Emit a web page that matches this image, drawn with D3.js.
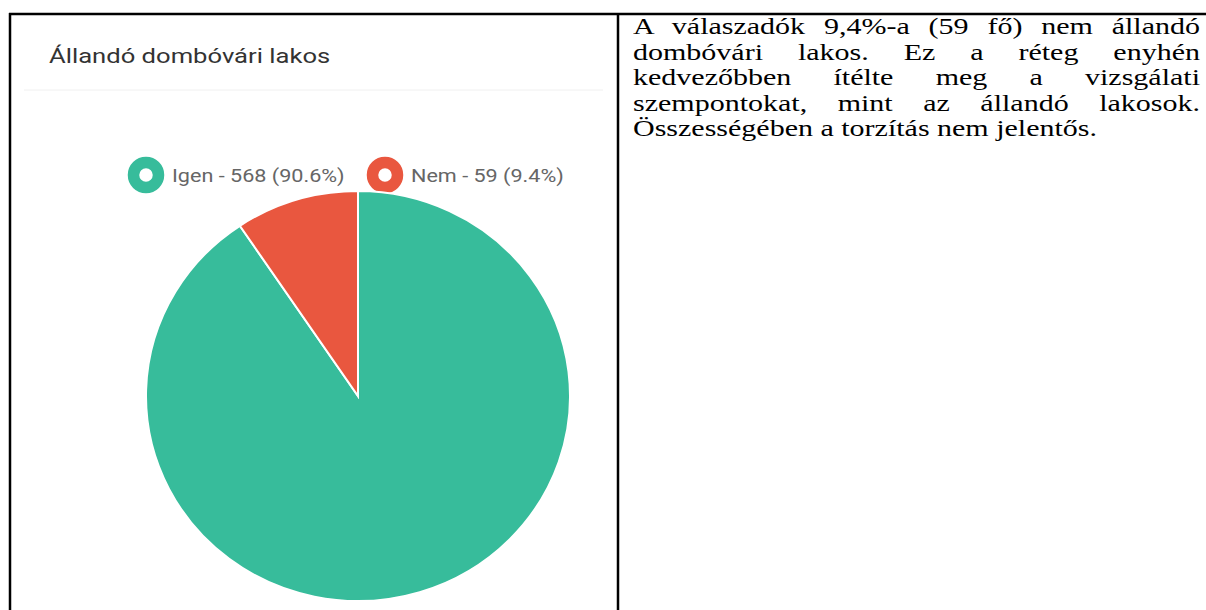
<!DOCTYPE html>
<html>
<head>
<meta charset="utf-8">
<title>Állandó dombóvári lakos</title>
<script src="https://cdnjs.cloudflare.com/ajax/libs/d3/7.8.5/d3.min.js"></script>
<style>
body { margin: 0; background: #fff; }
.note {
    position: absolute;
    font-family: "Liberation Serif", "Times New Roman", serif;
    color: #000;
    text-align: justify;
    transform-origin: 0 0;
}
</style>
</head>
<body>
<script>
// data
var labels = ["Igen", "Nem"];
var counts = [568, 59];
var percents = ["90.6%", "9.4%"];
var colors = ["#37bc9b", "#e9573f"];
var title = "Állandó dombóvári lakos";
var note = "A válaszadók 9,4%-a (59 fő) nem állandó dombóvári lakos. Ez a réteg enyhén kedvezőbben ítélte meg a vizsgálati szempontokat, mint az állandó lakosok. Összességében a torzítás nem jelentős.";

var W = 1206, H = 610;
// the source picture is stretched sideways, text gets the same stretch
var stretch = 1.2;

var svg = d3.select("body").append("svg")
    .attr("width", W)
    .attr("height", H)
    .style("position", "absolute")
    .style("left", 0)
    .style("top", 0);

// table borders
svg.append("line").attr("x1", 9).attr("x2", W).attr("y1", 14).attr("y2", 14)
    .attr("stroke", "#000").attr("stroke-width", 2.5);
svg.append("line").attr("x1", 10).attr("x2", 10).attr("y1", 13).attr("y2", H)
    .attr("stroke", "#000").attr("stroke-width", 2.5);
svg.append("line").attr("x1", 618).attr("x2", 618).attr("y1", 13).attr("y2", H)
    .attr("stroke", "#000").attr("stroke-width", 2.5);

// panel title
svg.append("text")
    .attr("transform", "translate(49,63) scale(1.22,1)")
    .attr("font-family", "Roboto, sans-serif")
    .attr("font-size", 21)
    .attr("fill", "#333")
    .text(title);

svg.append("line").attr("x1", 24).attr("x2", 603).attr("y1", 90).attr("y2", 90)
    .attr("stroke", "#f0f0f0").attr("stroke-width", 1);

// legend
var legendX = [146, 385];
var leg = svg.selectAll(".leg")
    .data(labels)
    .enter().append("g")
    .attr("class", "leg")
    .attr("transform", function(d, i) { return "translate(" + legendX[i] + ",175)"; });

leg.append("circle")
    .attr("r", 12.5)
    .attr("fill", "none")
    .attr("stroke", function(d, i) { return colors[i]; })
    .attr("stroke-width", 11.5);

leg.append("text")
    .attr("transform", "translate(26,7) scale(" + stretch + ",1)")
    .attr("font-family", "Roboto, sans-serif")
    .attr("font-size", 18)
    .attr("fill", "#666")
    .text(function(d, i) { return d + " - " + counts[i] + " (" + percents[i] + ")"; });

// pie
var cx = 358, cy = 396, rx = 212, ry = 205;

var pie = d3.pie().sort(null);
var arc = d3.arc().innerRadius(0).outerRadius(ry);

svg.append("g")
    .attr("transform", "translate(" + cx + "," + cy + ") scale(" + (rx / ry) + ",1)")
    .selectAll("path")
    .data(pie(counts))
    .enter().append("path")
    .attr("d", arc)
    .attr("fill", function(d, i) { return colors[i]; })
    .attr("stroke", "#fff")
    .attr("stroke-width", 2)
    .attr("vector-effect", "non-scaling-stroke");

// text cell
var noteK = 1.25;
d3.select("body").append("div")
    .attr("class", "note")
    .style("left", "633px")
    .style("top", "14px")
    .style("width", (567 / noteK) + "px")
    .style("font-size", "24px")
    .style("line-height", "25.5px")
    .style("transform", "scaleX(" + noteK + ")")
    .text(note);
</script>
</body>
</html>
